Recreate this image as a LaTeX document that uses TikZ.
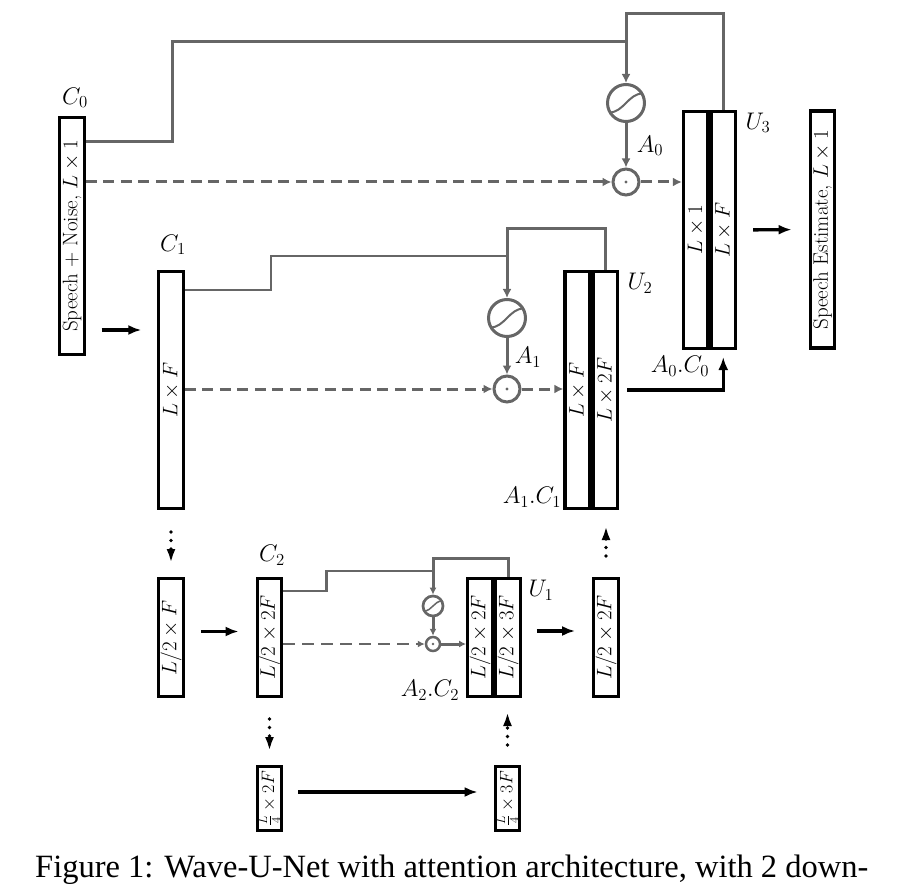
\RequirePackage{fix-cm}
\documentclass[tikz,border=0pt]{standalone}
\usepackage{fontspec}
\usepackage{graphicx}
\usetikzlibrary{arrows.meta,calc}
\newfontfamily\capfont{Liberation Serif}
\definecolor{lg}{HTML}{666666}
\begin{document}
\begin{tikzpicture}[x=1pt,y=-1pt,
  every node/.style={font=\fontsize{21}{25}\selectfont},
  lab/.style={font=\fontsize{24}{28}\selectfont},
  box/.style={draw=black, line width=3.3pt, minimum width=24.5pt, inner sep=0pt, rectangle},
  tall/.style={box, minimum height=236.7pt},
  mid/.style={box, minimum height=117.7pt},
  short/.style={box, minimum height=63.7pt},
  gline/.style={draw=lg, line width=3pt},
  gthin/.style={draw=lg, line width=2.2pt},
  gtip/.style={-{Latex[length=9pt,width=9pt]}},
  gtips/.style={-{Latex[length=7pt,width=7pt]}},
  gdash/.style={draw=lg, line width=3pt, dash pattern=on 11pt off 6.5pt},
  gdashs/.style={draw=lg, line width=2.5pt, dash pattern=on 12pt off 7pt},
  barrow/.style={draw=black, line width=3.3pt, -{Latex[length=13pt,width=10pt]}},
  dotarrow/.style={draw=black, line width=3.6pt, line cap=round, dash pattern=on 0pt off 8.5pt, -{Latex[length=14pt,width=9pt]}},
  sig/.style={circle, draw=lg, line width=3pt, minimum size=37pt, inner sep=0pt,
    path picture={\draw[lg,line width=2pt] ([shift={(-17pt,-9.5pt)}]path picture bounding box.center) .. controls +(15pt,0pt) and +(-15pt,0pt) .. ([shift={(17pt,9.5pt)}]path picture bounding box.center);}},
  sigs/.style={circle, draw=lg, line width=2.7pt, minimum size=20pt, inner sep=0pt,
    path picture={\draw[lg,line width=1.5pt] ([shift={(-9pt,-5pt)}]path picture bounding box.center) .. controls +(8pt,0pt) and +(-8pt,0pt) .. ([shift={(9pt,5pt)}]path picture bounding box.center);}},
  odot/.style={circle, draw=lg, line width=3pt, minimum size=26pt, inner sep=0pt,
    path picture={\fill[lg] (path picture bounding box.center) circle (1.7pt);}},
  odots/.style={circle, draw=lg, line width=2.5pt, minimum size=14pt, inner sep=0pt,
    path picture={\fill[lg] (path picture bounding box.center) circle (1.3pt);}}
]
\useasboundingbox (0,0) rectangle (905,893);

% boxes
\node[tall] (c0) at (72,236) {\rotatebox{90}{Speech + Noise, $L\times 1$}};
\node[tall] (c1) at (171,390) {\rotatebox{90}{$L\times F$}};
\node[mid] (d1) at (171,637.5) {\rotatebox{90}{$L/2\times F$}};
\node[mid] (c2) at (269.5,637.5) {\rotatebox{90}{$L/2\times 2F$}};
\node[mid] (u1a) at (480,637.5) {\rotatebox{90}{$L/2\times 2F$}};
\node[mid] (u1b) at (508,637.5) {\rotatebox{90}{$L/2\times 3F$}};
\node[mid] (r1) at (606,637.5) {\rotatebox{90}{$L/2\times 2F$}};
\node[short] (e1) at (269.5,798.5) {\rotatebox{90}{\fontsize{18}{20}\selectfont$\frac{L}{4}\times 2F$}};
\node[short] (e2) at (507.5,798.5) {\rotatebox{90}{\fontsize{18}{20}\selectfont$\frac{L}{4}\times 3F$}};
\node[tall] (u2a) at (577.25,390) {\rotatebox{90}{$L\times F$}};
\node[tall] (u2b) at (605.25,390) {\rotatebox{90}{$L\times 2F$}};
\node[tall] (u3a) at (695.75,230) {\rotatebox{90}{$L\times 1$}};
\node[tall] (u3b) at (723.25,230) {\rotatebox{90}{$L\times F$}};
\node[tall] (se) at (822.5,229.5) {\rotatebox{90}{Speech Estimate, $L\times 1$}};

% attention gates
\node[sig] (s0) at (626,103) {};
\node[odot] (o0) at (626,182) {};
\node[sig] (s1) at (507,318) {};
\node[odot] (o1) at (507,389) {};
\node[sigs] (s2) at (433,606) {};
\node[odots] (o2) at (433,644) {};
\coordinate (j0) at (626,42);
\coordinate (j1) at (507,256);
\coordinate (j2) at (433,571);

% labels
\node[lab] (lc0) at (75,98) {$C_0$};
\node[lab] (lc1) at (173,245) {$C_1$};
\node[lab] (lc2) at (272,555) {$C_2$};
\node[lab] (lu3) at (758,123) {$U_3$};
\node[lab] (lu2) at (640,283) {$U_2$};
\node[lab] (lu1) at (541,590) {$U_1$};
\node[lab] (la0) at (650,146) {$A_0$};
\node[lab] (la1) at (528,357) {$A_1$};
\node[lab] (la0c0) at (680,366) {$A_0.C_0$};
\node[lab] (la1c1) at (532,497) {$A_1.C_1$};
\node[lab] (la2c2) at (430,690) {$A_2.C_2$};

% level 0 attention
\draw[gline] ([yshift=94pt]c0.east) -- ++(87,0) |- (j0);
\draw[gline] (j0) -- ++(0,-28) -| (u3b.north);
\draw[gline,gtip] (j0) -- (s0);
\draw[gline,gtip] (s0) -- (o0);
\draw[gdash,gtip] (c0.east |- o0) -- (o0);
\draw[gdash,gtip] (o0) -- (u3a.west |- o0);

% level 1 attention
\draw[gthin] ([yshift=100pt]c1.east) -- ++(86,0) |- (j1);
\draw[gline] (j1) -- ++(0,-27) -| (u2b.north);
\draw[gline,gtip] (j1) -- (s1);
\draw[gline,gtip] (s1) -- (o1);
\draw[gdash,gtip] (c1.east |- o1) -- (o1);
\draw[gdash,gtip] (o1) -- (u2a.west |- o1);

% level 2 attention
\draw[gthin] ([yshift=46.5pt]c2.east) -- ++(43,0) |- (j2);
\draw[gline] (j2) -- ++(0,-13) -| (u1b.north);
\draw[gline,gtips] (j2) -- (s2);
\draw[gline,gtips] (s2) -- (o2);
\draw[gdashs,gtips] (c2.east |- o2) -- (o2);
\draw[gline,gtips] (o2) -- (u1a.west |- o2);

% black arrows
\draw[barrow, shorten <=15.75pt, shorten >=15.75pt] ([yshift=-94pt]c0.east) -- ([yshift=-94pt]c0.east -| c1.west);
\draw[barrow, shorten <=16pt, shorten >=17pt] (u3b.east) -- (se.west);
\draw[barrow, shorten <=8pt, shorten >=7pt] (u2b.east) -| (u3b.south);
\draw[barrow, shorten <=16pt, shorten >=17pt] ([yshift=6pt]d1.east) -- ([yshift=6pt]c2.west);
\draw[barrow, shorten <=15pt, shorten >=17pt] ([yshift=6.5pt]u1b.east) -- ([yshift=6.5pt]r1.west);
\draw[barrow, shorten <=15pt, shorten >=16pt] ([yshift=6.5pt]e1.east) -- ([yshift=6.5pt]e2.west);

% dotted arrows
\draw[dotarrow, shorten <=22pt, shorten >=14pt] (c1.south) -- (d1.north);
\draw[dotarrow, shorten <=21pt, shorten >=16pt] (r1.north) -- (r1.north |- u2b.south);
\draw[dotarrow, shorten <=21pt, shorten >=14pt] (c2.south) -- (e1.north);
\draw[dotarrow, shorten <=20pt, shorten >=14pt] (e2.north) -- (e2.north |- u1b.south);

% caption
\node[anchor=base west, inner sep=0pt, font=\capfont\fontsize{32.5}{36}\selectfont] (cap) at (35,877) {Figure 1: Wave-U-Net with attention architecture, with 2 down-};
\end{tikzpicture}
\end{document}
